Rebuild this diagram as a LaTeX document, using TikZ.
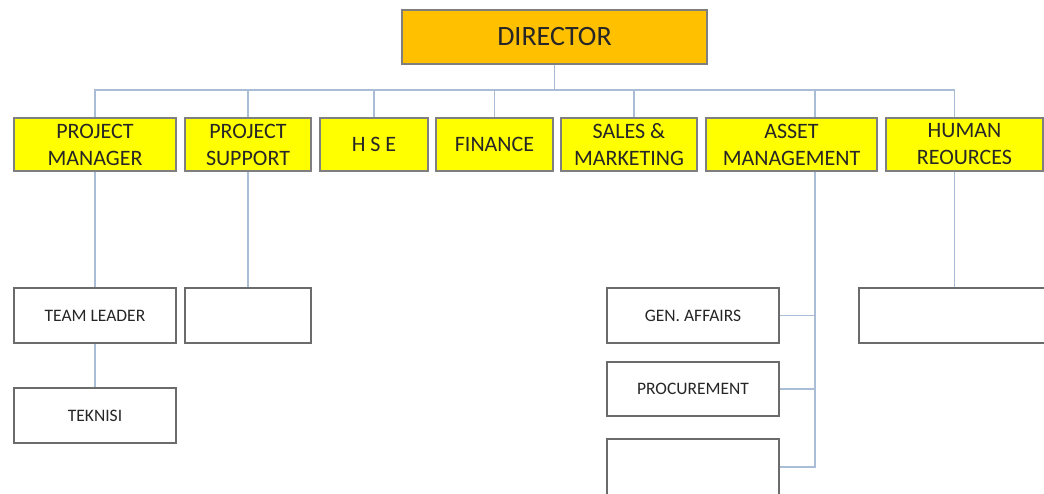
\documentclass[tikz,border=0pt]{standalone}
\usepackage{fontspec}
\setmainfont{Carlito}
\definecolor{dirfill}{HTML}{FFC000}
\definecolor{unitfill}{HTML}{FFFF00}
\definecolor{boxline}{HTML}{7F7F7F}
\definecolor{staffline}{HTML}{6B6B6B}
\definecolor{linkline}{HTML}{A9BDD6}
\definecolor{textgray}{HTML}{262626}

\begin{document}
\begin{tikzpicture}[x=0.5pt, y=-0.5pt,
  head/.style={draw=boxline, line width=1pt, fill=dirfill, inner sep=0pt,
    minimum width=152.5pt, minimum height=27pt,
    text=textgray, font=\fontsize{14}{16}\selectfont},
  unit/.style={draw=boxline, line width=1pt, fill=unitfill, inner sep=0pt,
    minimum height=26.5pt, align=center,
    text=textgray, font=\fontsize{11}{13.5}\selectfont},
  staff/.style={draw=staffline, line width=0.8pt, fill=white, inner sep=0pt,
    minimum height=27.5pt,
    text=textgray, font=\fontsize{8.75}{10}\selectfont},
  link/.style={draw=linkline, line width=0.8pt}]
  \useasboundingbox (0,0) rectangle (1044,493);
  \clip (0,0) rectangle (1044,493);

  % top
  \node[head] (dir) at (554.5,37) {DIRECTOR};
  \coordinate (bus) at (0,90);

  % departments
  \node[unit, minimum width=81pt]   (pm)  at (95,144.5)    {PROJECT\\MANAGER};
  \node[unit, minimum width=63pt]   (ps)  at (248,144.5)   {PROJECT\\SUPPORT};
  \node[unit, minimum width=54pt]   (hse) at (374,144.5)   {H S E};
  \node[unit, minimum width=58.5pt] (fin) at (494.5,144.5) {FINANCE};
  \node[unit, minimum width=68pt]   (sal) at (629,144.5)   {SALES \&\\MARKETING};
  \node[unit, minimum width=85.5pt] (ast) at (791.5,144.5) {ASSET\\MANAGEMENT};
  \node[unit, minimum width=78.5pt] (hr)  at (964.5,144.5) {HUMAN\\REOURCES};

  % staff
  \node[staff, minimum width=81pt] (tl)   at (95,315.5)  {TEAM LEADER};
  \node[staff, minimum width=81pt] (tek)  at (95,415.5)  {TEKNISI};
  \node[staff, minimum width=63pt] (psx)  at (248,315.5) {};
  \node[staff, minimum width=86pt] (gen)  at (693,315.5) {GEN. AFFAIRS};
  \node[staff, minimum width=86pt, minimum height=27pt] (proc) at (693,389) {PROCUREMENT};
  \node[staff, minimum width=86pt, minimum height=28pt] (emp)  at (693,467) {};
  \node[staff, minimum width=95.5pt] (hrx) at (954.5,315.5) {};
  \coordinate (spine) at (815,467);

  % connectors
  \draw[link] (dir.south) -- (dir.south |- bus);
  \draw[link] (pm.north) -- (pm.north |- bus) -- (hrx.north |- bus) -- (hrx.north |- hr.north);
  \draw[link] (ps.north) -- (ps.north |- bus);
  \draw[link] (hse.north) -- (hse.north |- bus);
  \draw[link] (fin.north) -- (fin.north |- bus);
  \draw[link] ([xshift=2.5pt]sal.north) -- ([xshift=2.5pt]sal.north |- bus);
  \draw[link] (ast.north -| spine) -- (bus -| spine);
  \draw[link] (pm.south) -- (tl.north);
  \draw[link] (tl.south) -- (tek.north);
  \draw[link] (ps.south) -- (psx.north);
  \draw[link] (hrx.north |- hr.south) -- (hrx.north);
  \draw[link] (ast.south -| spine) -- (spine) -- (emp.east);
  \draw[link] (gen.east) -- (gen.east -| spine);
  \draw[link] (proc.east) -- (proc.east -| spine);
\end{tikzpicture}
\end{document}
